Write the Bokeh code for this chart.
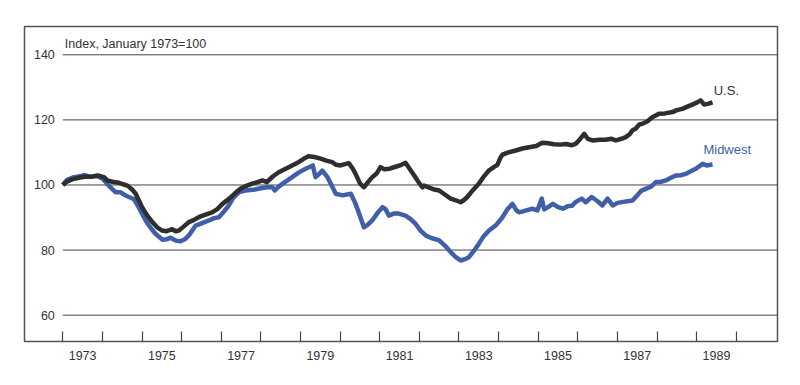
from bokeh.plotting import figure
from bokeh.models import Range1d, FixedTicker, CustomJSTickFormatter, Label
from bokeh.core.properties import value
from bokeh.embed import file_html
from bokeh.resources import INLINE

# ---- data ----
us_dates = [1973.0, 1973.1, 1973.25, 1973.4, 1973.55, 1973.75, 1973.9, 1974.05, 1974.12, 1974.25,
            1974.41, 1974.5, 1974.63, 1974.75, 1974.84, 1975.0, 1975.12, 1975.26, 1975.38, 1975.51,
            1975.62, 1975.76, 1975.85, 1975.93, 1976.05, 1976.18, 1976.3, 1976.43, 1976.6, 1976.77,
            1976.9, 1977.03, 1977.2, 1977.36, 1977.5, 1977.65, 1977.78, 1977.9, 1978.04, 1978.15,
            1978.3, 1978.45, 1978.6, 1978.79, 1978.95, 1979.1, 1979.2, 1979.35, 1979.51, 1979.65,
            1979.8, 1979.9, 1980.01, 1980.12, 1980.22, 1980.32, 1980.39, 1980.5, 1980.6, 1980.7,
            1980.81, 1980.92, 1981.02, 1981.12, 1981.25, 1981.4, 1981.55, 1981.65, 1981.78, 1981.9,
            1982.0, 1982.08, 1982.12, 1982.25, 1982.38, 1982.5, 1982.65, 1982.79, 1982.92, 1983.04,
            1983.12, 1983.21, 1983.35, 1983.5, 1983.62, 1983.76, 1983.88, 1983.97, 1984.05, 1984.1,
            1984.25, 1984.43, 1984.6, 1984.77, 1984.95, 1985.1, 1985.25, 1985.4, 1985.55, 1985.7,
            1985.85, 1985.95, 1986.05, 1986.16, 1986.25, 1986.37, 1986.55, 1986.7, 1986.85, 1986.96,
            1987.1, 1987.21, 1987.3, 1987.38, 1987.46, 1987.55, 1987.63, 1987.75, 1987.88, 1988.05,
            1988.2, 1988.39, 1988.5, 1988.64, 1988.75, 1988.89, 1989.0, 1989.1, 1989.19, 1989.3,
            1989.4]
us_values = [100.0, 101.0, 101.8, 102.2, 102.5, 102.6, 102.9, 102.3, 101.4, 101.0,
             100.7, 100.3, 99.8, 98.6, 97.3, 93.2, 90.8, 88.6, 87.0, 86.0,
             85.8, 86.4, 85.8, 86.0, 87.2, 88.6, 89.2, 90.1, 90.9, 91.6,
             92.6, 94.2, 95.8, 97.6, 99.0, 99.8, 100.4, 100.8, 101.4, 100.9,
             102.6, 103.9, 104.8, 106.0, 107.0, 108.2, 108.8, 108.6, 108.1, 107.5,
             107.0, 106.2, 106.0, 106.4, 106.7, 105.0, 103.4, 100.5, 99.3, 100.8,
             102.4, 103.5, 105.5, 104.8, 105.0, 105.6, 106.2, 106.8, 104.5, 102.4,
             100.5, 99.3, 99.8, 99.2, 98.6, 98.3, 97.0, 95.8, 95.3, 94.7,
             95.3, 96.3, 98.4, 100.4, 102.5, 104.5, 105.5, 106.2, 108.5, 109.3,
             110.0, 110.6, 111.2, 111.6, 112.0, 113.0, 112.8, 112.5, 112.4, 112.6,
             112.2, 112.7, 114.0, 115.7, 114.2, 113.7, 113.9, 113.9, 114.2, 113.7,
             114.2, 114.7, 115.5, 116.8, 117.3, 118.6, 118.8, 119.5, 120.8, 121.9,
             122.0, 122.4, 123.0, 123.4, 124.0, 124.7, 125.3, 126.0, 124.7, 125.0,
             125.4]

mw_dates = [1973.0, 1973.1, 1973.25, 1973.4, 1973.55, 1973.7, 1973.85, 1974.0, 1974.16, 1974.33,
            1974.45, 1974.55, 1974.67, 1974.8, 1974.9, 1975.0, 1975.12, 1975.25, 1975.34, 1975.51,
            1975.62, 1975.72, 1975.85, 1975.97, 1976.08, 1976.18, 1976.35, 1976.5, 1976.69, 1976.82,
            1976.94, 1977.05, 1977.19, 1977.3, 1977.45, 1977.61, 1977.8, 1978.0, 1978.15, 1978.29,
            1978.35, 1978.45, 1978.55, 1978.79, 1978.95, 1979.13, 1979.31, 1979.38, 1979.48, 1979.55,
            1979.68, 1979.8, 1979.89, 1980.06, 1980.27, 1980.38, 1980.48, 1980.6, 1980.7, 1980.81,
            1980.95, 1981.07, 1981.15, 1981.23, 1981.35, 1981.48, 1981.65, 1981.78, 1981.9, 1982.03,
            1982.16, 1982.3, 1982.5, 1982.65, 1982.79, 1982.92, 1983.04, 1983.15, 1983.25, 1983.38,
            1983.5, 1983.62, 1983.76, 1983.93, 1984.1, 1984.22, 1984.35, 1984.45, 1984.52, 1984.7,
            1984.85, 1984.98, 1985.09, 1985.15, 1985.25, 1985.37, 1985.5, 1985.62, 1985.75, 1985.85,
            1985.95, 1986.1, 1986.2, 1986.35, 1986.5, 1986.62, 1986.75, 1986.88, 1987.0, 1987.15,
            1987.38, 1987.5, 1987.6, 1987.71, 1987.85, 1987.97, 1988.1, 1988.22, 1988.35, 1988.47,
            1988.6, 1988.72, 1988.85, 1988.98, 1989.15, 1989.25, 1989.4]
mw_values = [100.0, 101.5, 102.3, 102.6, 103.0, 102.5, 102.8, 102.0, 99.8, 97.8,
             97.8, 97.0, 96.3, 95.6, 93.5, 91.2, 88.5, 86.3, 85.0, 83.2,
             83.3, 83.8, 82.9, 82.7, 83.3, 84.5, 87.5, 88.2, 89.1, 89.8,
             90.1, 91.6, 93.7, 96.0, 97.8, 98.3, 98.5, 99.0, 99.3, 99.3,
             98.3, 99.5, 100.4, 102.4, 103.8, 105.0, 106.0, 102.4, 103.5, 104.4,
             102.4, 99.5, 97.3, 96.8, 97.3, 94.5, 91.2, 87.0, 87.8, 89.1,
             91.5, 93.2, 92.5, 90.6, 91.2, 91.2, 90.6, 89.5, 88.1, 86.0,
             84.5, 83.7, 83.0, 81.3, 79.4, 77.8, 76.8, 77.2, 77.8, 79.8,
             81.9, 84.2, 86.0, 87.6, 90.1, 92.5, 94.2, 92.2, 91.6, 92.2,
             92.7, 92.2, 95.8, 92.5, 93.2, 94.2, 93.2, 92.7, 93.5, 93.6,
             94.8, 95.8, 94.7, 96.3, 95.0, 93.7, 95.8, 93.7, 94.5, 94.8,
             95.2, 96.8, 98.2, 98.8, 99.5, 100.9, 101.0, 101.4, 102.2, 102.9,
             103.0, 103.4, 104.2, 105.0, 106.5, 106.0, 106.3]

y_ticks = [60, 80, 100, 120, 140]
year_ticks = list(range(1973, 1991))
label_years = [1973, 1975, 1977, 1979, 1981, 1983, 1985, 1987, 1989]

FONT = "Liberation Sans"
TXT = "#333333"
BLUE = "#3f5fa8"

x_start, x_end = 1972.033, 1991.04
p = figure(frame_width=753, frame_height=315, output_backend="svg", toolbar_location=None,
           x_range=Range1d(x_start, x_end), y_range=Range1d(51.9, 148.7),
           min_border_left=24, min_border_right=15, min_border_top=26, min_border_bottom=10)
p.outline_line_color = "#555555"
p.outline_line_width = 1.5
p.background_fill_color = "white"
p.border_fill_color = "white"
p.xgrid.visible = False
p.ygrid.visible = False
p.yaxis.visible = False

# x axis: labels at mid-year, tick marks at year boundaries (minor ticks drawn inward)
p.xaxis.ticker = FixedTicker(ticks=[y + 0.5 for y in label_years], minor_ticks=year_ticks)
p.xaxis.formatter = CustomJSTickFormatter(code="return Math.floor(tick).toString();")
p.xaxis.axis_line_color = None
p.xaxis.major_tick_line_color = None
p.xaxis.minor_tick_in = 10
p.xaxis.minor_tick_out = 0
p.xaxis.minor_tick_line_color = "#444444"
p.xaxis.minor_tick_line_width = 1.2
p.xaxis.major_label_standoff = 3
p.xaxis.major_label_text_font = FONT
p.xaxis.major_label_text_font_size = "12.5px"
p.xaxis.major_label_text_color = TXT

# horizontal grid lines starting at 1973
p.segment(x0=[year_ticks[0]] * len(y_ticks), y0=y_ticks, x1=[x_end] * len(y_ticks), y1=y_ticks,
          line_color="#444444", line_width=1)

# y tick labels inside the frame
p.text(x=[year_ticks[0]] * len(y_ticks), y=y_ticks, text=[str(v) for v in y_ticks],
       x_offset=-8, text_align="right", text_baseline="middle",
       text_font=value(FONT), text_font_size="12.5px", text_color=TXT)

# series
p.line(mw_dates, mw_values, line_color=BLUE, line_width=4.5, line_join="round")
p.line(us_dates, us_values, line_color="#2e2e2e", line_width=4.5, line_join="round")

p.add_layout(Label(x=year_ticks[0], y=143.2, x_offset=2, text="Index, January 1973=100",
                   text_font=FONT, text_font_size="12.5px", text_color=TXT,
                   text_baseline="middle"))
p.add_layout(Label(x=1989.43, y=129.0, text="U.S.", text_font=FONT, text_font_size="13px",
                   text_color=TXT, text_baseline="middle"))
p.add_layout(Label(x=1989.17, y=110.9, text="Midwest", text_font=FONT, text_font_size="13px",
                   text_color=BLUE, text_baseline="middle"))

open("out.html", "w").write(file_html(p, INLINE))
